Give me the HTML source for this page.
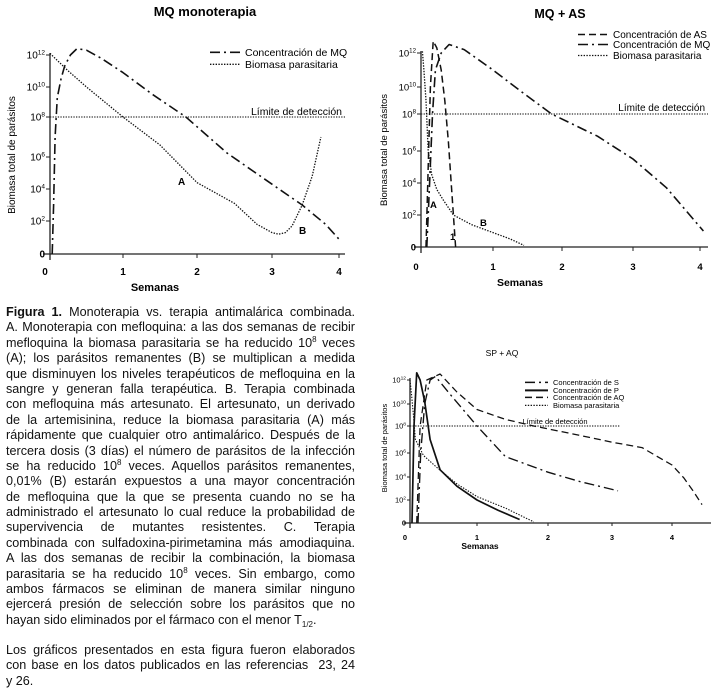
<!DOCTYPE html>
<html><head><meta charset="utf-8">
<style>
body{margin:0;background:#fff;width:711px;height:692px;overflow:hidden;position:relative;font-family:"Liberation Sans",Arial,sans-serif;}
svg{position:absolute;left:0;top:0}
#cap{position:absolute;left:6px;top:305px;width:349px;font-size:12.6px;line-height:15.4px;color:#111}
#cap div{text-align:justify;text-align-last:justify;white-space:nowrap;height:15.4px}
#cap div.l{text-align-last:left}
sup{font-size:8px;line-height:0;vertical-align:5px}
sub{font-size:8px;line-height:0;vertical-align:-3px}
</style></head><body>
<svg id="fig" width="711" height="692"></svg>
<div id="cap">
<div><b>Figura 1.</b> Monoterapia vs. terapia antimalárica combinada.</div>
<div>A. Monoterapia con mefloquina: a las dos semanas de recibir</div>
<div>mefloquina la biomasa parasitaria se ha reducido 10<sup>8</sup> veces</div>
<div>(A); los parásitos remanentes (B) se multiplican a medida</div>
<div>que disminuyen los niveles terapéuticos de mefloquina en la</div>
<div>sangre y generan falla terapéutica. B. Terapia combinada</div>
<div>con mefloquina más artesunato. El artesunato, un derivado</div>
<div>de la artemisinina, reduce la biomasa parasitaria (A) más</div>
<div>rápidamente que cualquier otro antimalárico. Después de la</div>
<div>tercera dosis (3 días) el número de parásitos de la infección</div>
<div>se ha reducido 10<sup>8</sup> veces. Aquellos parásitos remanentes,</div>
<div>0,01% (B) estarán expuestos a una mayor concentración</div>
<div>de mefloquina que la que se presenta cuando no se ha</div>
<div>administrado el artesunato lo cual reduce la probabilidad de</div>
<div>supervivencia de mutantes resistentes. C. Terapia</div>
<div>combinada con sulfadoxina-pirimetamina más amodiaquina.</div>
<div>A las dos semanas de recibir la combinación, la biomasa</div>
<div>parasitaria se ha reducido 10<sup>8</sup> veces. Sin embargo, como</div>
<div>ambos fármacos se eliminan de manera similar ninguno</div>
<div>ejercerá presión de selección sobre los parásitos que no</div>
<div class="l">hayan sido eliminados por el fármaco con el menor T<sub>1/2</sub>.</div>
<div style="height:14.6px"></div>
<div>Los gráficos presentados en esta figura fueron elaborados</div>
<div>con base en los datos publicados en las referencias&nbsp; 23, 24</div>
<div class="l">y 26.</div>
</div>
<script>
// ---- Chart A: MQ monoterapia ----
const a_mq_weeks=[0.03,0.05,0.07,0.1,0.15,0.2,0.28,0.37,0.5,0.7,1.0,1.4,1.85,2.4,3.0,3.45,3.8,4.0];
const a_mq_exp=[0,3,7,9.3,10.5,11.3,12,12.4,12.3,11.8,10.9,9.5,8,6.2,4.3,3,1.8,0.9];
const a_par_weeks=[0,0.25,0.5,1.0,1.5,2.0,2.5,2.8,3.0,3.1,3.2,3.3,3.45,3.6,3.73];
const a_par_exp=[12.1,11,10,8,6.6,4.4,3.1,1.8,1.3,1.2,1.3,1.7,3,4.8,7];
// ---- Chart B: MQ + AS ----
const b_mq_weeks=[0.08,0.12,0.16,0.2,0.28,0.39,0.6,1.0,1.4,1.85,2.5,3.0,3.5,4.05];
const b_mq_exp=[0,4,8,11,12,12.5,12.2,11,9.7,8,6.8,5.5,3.7,1];
const b_as_weeks=[0.07,0.1,0.13,0.17,0.22,0.28,0.33,0.38,0.42,0.45,0.48];
const b_as_exp=[0,5,10,12.7,12.3,11,9,6.5,4,2,0];
const b_par_weeks=[0.02,0.04,0.07,0.1,0.15,0.22,0.3,0.45,0.7,1.0,1.25,1.45];
const b_par_exp=[12.1,11,9,6,4.5,3.6,3,2,1.4,0.9,0.5,0.1];
// ---- Chart C: SP + AQ ----
const c_s_weeks=[0.12,0.16,0.22,0.3,0.38,0.6,1.0,1.4,2.0,2.5,3.1];
const c_s_exp=[0,6,10,12,12.3,10.8,8,5.7,4.4,3.6,2.8];
const c_p_weeks=[0.03,0.06,0.1,0.15,0.22,0.3,0.45,0.7,1.0,1.3,1.6];
const c_p_exp=[0,8,12.6,12,10.2,7,4.6,3.2,2,1.1,0.3];
const c_aq_weeks=[0.1,0.15,0.25,0.45,0.7,1.0,1.4,1.8,2.5,3.0,3.5,4.0,4.2,4.35,4.5];
const c_aq_exp=[0,8,12,12.5,11,9.5,8.6,8,7.3,6.8,6.4,5,3.9,2.8,1.6];
const c_par_weeks=[0,0.02,0.05,0.08,0.2,0.4,0.7,1.0,1.4,1.8];
const c_par_exp=[12,11,9,7,5.8,4.8,3.4,2.3,1.3,0.1];
// tick labels
const xTickLabels=["0","1","2","3","4"];
const yTickExps=[0,2,4,6,8,10,12];
const detectionExp=8;

const NS="http://www.w3.org/2000/svg";
const svg=document.getElementById('fig');
function mk(tag,attrs,parent){const e=document.createElementNS(NS,tag);for(const k in attrs)e.setAttribute(k,attrs[k]);(parent||svg).appendChild(e);return e;}
function interp(v,dom,rng){
  let i=0;while(i<dom.length-2&&v>dom[i+1])i++;
  const t=(v-dom[i])/(dom[i+1]-dom[i]);return rng[i]+t*(rng[i+1]-rng[i]);
}
const styles={
  dashdot:{dash:"10,4,2,4",w:1.6},
  dotted:{dash:"1.4,1.4",w:1.3},
  dashed:{dash:"7,4",w:1.5},
  solid:{dash:"none",w:2}
};
function chart(cfg){
  const g=mk('g',{},svg);
  
  
  const xs=v=>interp(v,[0,1,2,3,4],cfg.xpx);
  const ys=v=>interp(v,yTickExps,cfg.ypx);
  const fs=cfg.fs;
  let t=mk('text',{x:cfg.title[1],y:cfg.title[2],'text-anchor':'middle','font-size':cfg.tfs,'font-weight':cfg.tbold?'bold':'normal'},g);
  t.textContent=cfg.title[0];
  
  
  const x0=cfg.xpx[0],yb=cfg.ypx[0];
  let ax=mk('line',{x1:x0-cfg.tick-3,y1:yb,x2:cfg.xend,y2:yb,stroke:'#222','stroke-width':1.3},g);
  
  
  let ay=mk('line',{x1:x0,y1:cfg.ypx[6]-2,x2:x0,y2:yb+cfg.tick+2,stroke:'#222','stroke-width':1.3},g);
  
  
  xTickLabels.forEach((lab,i)=>{
    const x=xs(i);
    if(i>0)mk('line',{x1:x,y1:yb,x2:x,y2:yb+cfg.tick,stroke:'#222','stroke-width':1},g);
    const tx=mk('text',{x:i==0?x-5:x,y:cfg.xly,'text-anchor':'middle','font-size':fs,'font-weight':'bold'},g);
    tx.textContent=lab;
    
    
  });
  yTickExps.forEach(e=>{
    const y=ys(e);
    mk('line',{x1:x0-cfg.tick,y1:y,x2:x0,y2:y,stroke:'#222','stroke-width':1},g);
    const tx=mk('text',{x:x0-cfg.tick-1,y:y+fs*0.35,'text-anchor':'end','font-size':fs},g);
    
    
    if(e===0){tx.textContent='0';tx.setAttribute('font-weight','bold');}
    else{tx.textContent='10';const sp=mk('tspan',{dy:-fs*0.4,'font-size':fs*0.65},tx);sp.textContent=String(e);}
  });
  let xt=mk('text',{x:cfg.xtitle[0],y:cfg.xtitle[1],'text-anchor':'middle','font-size':fs+1,'font-weight':'bold'},g);
  xt.textContent='Semanas';
  
  
  let yt=mk('text',{x:0,y:0,'text-anchor':'middle','font-size':fs,transform:`translate(${cfg.ytitle[0]},${cfg.ytitle[1]}) rotate(-90)`},g);
  yt.textContent='Biomasa total de parásitos';
  
  
  let dl=mk('line',{x1:x0,y1:ys(detectionExp),x2:cfg.detEnd,y2:ys(detectionExp),stroke:'#333','stroke-width':1.2,'stroke-dasharray':'1.3,1.3'},g);
  
  
  let dt=mk('text',{x:cfg.detText[0],y:cfg.detText[1],'text-anchor':cfg.detText[2],'font-size':cfg.lfs},g);
  dt.textContent='Límite de detección';
  
  
  cfg.series.forEach((s,k)=>{
    const st=styles[s.style];
    const pts=s.w.map((w,i)=>xs(w).toFixed(1)+','+ys(s.e[i]).toFixed(1)).join(' ');
    const pl=mk('polyline',{points:pts,fill:'none',stroke:'#111','stroke-width':st.w*(cfg.sw||1),'stroke-dasharray':st.dash,'stroke-linejoin':'round'},g);
    
    
    const ly=cfg.legY[k];
    mk('line',{x1:cfg.legX[0],y1:ly-cfg.lfs*0.35,x2:cfg.legX[1],y2:ly-cfg.lfs*0.35,stroke:'#111','stroke-width':st.w,'stroke-dasharray':st.dash},g);
    const lt=mk('text',{x:cfg.legX[1]+5,y:ly,'font-size':cfg.lfs},g);
    lt.textContent=s.label;
    
    
  });
  (cfg.notes||[]).forEach(n=>{
    const nt=mk('text',{x:n[1],y:n[2],'font-size':fs,'font-weight':'bold'},g);
    nt.textContent=n[0];
    
    
  });
}
chart({name:'chart-mq-monoterapia',title:['MQ monoterapia',205,16],tfs:13,tbold:true,
  xpx:[50,123,197,272,339],ypx:[254,221,189,157,117,87,55],xend:345,tick:4,fs:10,xly:275,
  xtitle:[155,291],ytitle:[15,155],detEnd:345,detText:[342,115,'end'],lfs:10.5,
  legX:[210,240],legY:[56,68],
  series:[{w:a_mq_weeks,e:a_mq_exp,style:'dashdot',name:'mq-concentration-line',label:'Concentración de MQ'},
          {w:a_par_weeks,e:a_par_exp,style:'dotted',name:'parasite-biomass-line',label:'Biomasa parasitaria'}],
  notes:[['A',178,185],['B',299,234]]});
chart({name:'chart-mq-as',title:['MQ + AS',560,18],tfs:12.5,tbold:true,
  xpx:[421,493,562,633,700],ypx:[247,215,183,151,114,87,53],xend:708,tick:4,fs:9.5,xly:270,
  xtitle:[520,286],ytitle:[387,150],detEnd:708,detText:[705,111,'end'],lfs:10,
  legX:[578,608],legY:[38,48,59],
  series:[{w:b_as_weeks,e:b_as_exp,style:'dashed',name:'as-concentration-line',label:'Concentración de AS'},
          {w:b_mq_weeks,e:b_mq_exp,style:'dashdot',name:'mq-concentration-line',label:'Concentración de MQ'},
          {w:b_par_weeks,e:b_par_exp,style:'dotted',name:'parasite-biomass-line',label:'Biomasa parasitaria'}],
  notes:[['A',430,208],['B',480,226],['1',450,240]]});
chart({name:'chart-sp-aq',title:['SP + AQ',502,356],tfs:8.5,tbold:false,
  xpx:[410,477,548,612,672],ypx:[523,500,477,453,426,404,380],xend:711,tick:3,fs:7.5,xly:540,
  xtitle:[480,549],ytitle:[387,448],detEnd:620,detText:[555,424,'middle'],lfs:7.5,
  legX:[525,548],legY:[385,393,400,408],sw:0.85,
  series:[{w:c_s_weeks,e:c_s_exp,style:'dashdot',name:'s-concentration-line',label:'Concentración de S'},
          {w:c_p_weeks,e:c_p_exp,style:'solid',name:'p-concentration-line',label:'Concentración de P'},
          {w:c_aq_weeks,e:c_aq_exp,style:'dashed',name:'aq-concentration-line',label:'Concentración de AQ'},
          {w:c_par_weeks,e:c_par_exp,style:'dotted',name:'parasite-biomass-line',label:'Biomasa parasitaria'}]});
</script>
</body></html>
